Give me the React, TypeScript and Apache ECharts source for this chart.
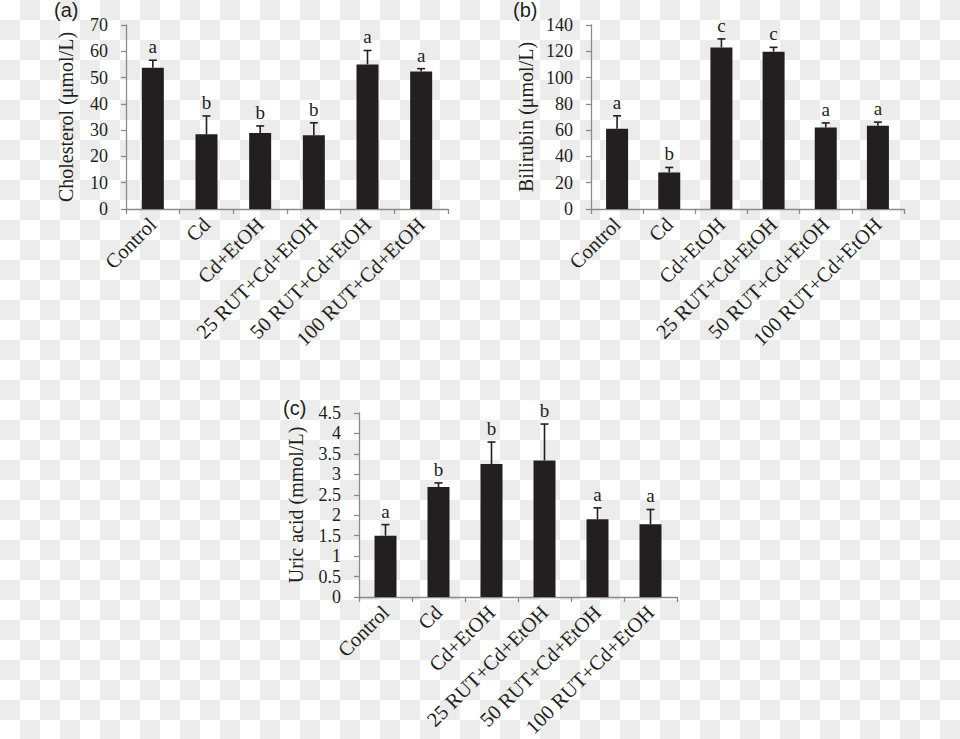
import React, { useEffect, useRef } from "react";
import * as echarts from "echarts";

const categories = [
  "Control",
  "Cd",
  "Cd+EtOH",
  "25 RUT+Cd+EtOH",
  "50 RUT+Cd+EtOH",
  "100 RUT+Cd+EtOH",
];

const cholMean = [53.7, 28.4, 28.9, 28.1, 55.0, 52.3];
const cholSD = [2.9, 7.0, 2.7, 4.7, 5.3, 1.1];
const cholLetters = ["a", "b", "b", "b", "a", "a"];

const biliMean = [61.0, 27.8, 122.8, 119.7, 62.0, 63.3];
const biliSD = [9.9, 3.8, 6.6, 3.3, 3.5, 2.8];
const biliLetters = ["a", "b", "c", "c", "a", "a"];

const uricMean = [1.5, 2.69, 3.25, 3.34, 1.9, 1.78];
const uricSD = [0.27, 0.1, 0.54, 0.89, 0.28, 0.36];
const uricLetters = ["a", "b", "b", "b", "a", "a"];

const panels = [
  { tag: "(a)", name: "Cholesterol (μmol/L)", mean: cholMean, sd: cholSD, letters: cholLetters, max: 70, interval: 10, nameGap: 50 },
  { tag: "(b)", name: "Bilirubin (μmol/L)", mean: biliMean, sd: biliSD, letters: biliLetters, max: 140, interval: 20, nameGap: 55 },
  { tag: "(c)", name: "Uric acid (mmol/L)", mean: uricMean, sd: uricSD, letters: uricLetters, max: 4.5, interval: 0.5, nameGap: 53 },
];

const grids = [
  { left: 126, top: 25, width: 322, height: 184, outerBoundsMode: "none", containLabel: false },
  { left: 591, top: 25, width: 313, height: 184, outerBoundsMode: "none", containLabel: false },
  { left: 359, top: 413, width: 318, height: 184, outerBoundsMode: "none", containLabel: false },
];

const tagPos = [
  [54, 0],
  [513, 0],
  [283, 398],
];

const INK = "#231f20";
const AXIS = "#8a8a8a";
const SERIF = '"Liberation Serif", "Times New Roman", serif';

export default function App() {
  const ref = useRef<HTMLDivElement>(null);
  useEffect(() => {
    if (!ref.current) return;
    const chart = echarts.init(ref.current, undefined, { renderer: "svg" });
    const xAxis: any[] = [];
    const yAxis: any[] = [];
    const series: any[] = [];
    panels.forEach((p, k) => {
      xAxis.push({
        type: "category",
        gridIndex: k,
        data: categories,
        boundaryGap: true,
        axisLine: { show: true, lineStyle: { color: AXIS, width: 1.3 } },
        axisTick: { show: true, length: 5, lineStyle: { color: AXIS, width: 1.3 } },
        axisLabel: { rotate: 45, margin: 12, color: INK, fontFamily: SERIF, fontSize: 20.5, interval: 0 },
        splitLine: { show: false },
      });
      yAxis.push({
        type: "value",
        gridIndex: k,
        min: 0,
        max: p.max,
        interval: p.interval,
        name: p.name,
        nameLocation: "middle",
        nameGap: p.nameGap,
        nameTextStyle: { color: INK, fontFamily: SERIF, fontSize: 20 },
        axisLine: { show: true, lineStyle: { color: AXIS, width: 1.3 } },
        axisTick: { show: true, length: 5, lineStyle: { color: AXIS, width: 1.3 } },
        axisLabel: { margin: 18, color: INK, fontFamily: SERIF, fontSize: 18 },
        splitLine: { show: false },
      });
      series.push({
        type: "bar",
        xAxisIndex: k,
        yAxisIndex: k,
        data: p.mean,
        barWidth: 22,
        itemStyle: { color: INK },
      });
      series.push({
        type: "custom",
        xAxisIndex: k,
        yAxisIndex: k,
        clip: false,
        z: 5,
        data: p.mean.map((m, i) => [i, m + p.sd[i], m]),
        encode: { x: 0, y: 1 },
        renderItem: (params: any, api: any) => {
          const i = api.value(0);
          const top = api.value(1);
          const base = api.value(2);
          const p1 = api.coord([i, base]);
          const p2 = api.coord([i, top]);
          return {
            type: "group",
            children: [
              { type: "line", shape: { x1: p1[0], y1: p1[1], x2: p2[0], y2: p2[1] }, style: { stroke: INK, lineWidth: 1.6 } },
              { type: "line", shape: { x1: p2[0] - 4, y1: p2[1], x2: p2[0] + 4, y2: p2[1] }, style: { stroke: INK, lineWidth: 1.6 } },
              {
                type: "text",
                x: p2[0],
                y: p2[1] - 4,
                style: {
                  text: p.letters[params.dataIndex],
                  fill: INK,
                  fontFamily: SERIF,
                  fontSize: 19,
                  align: "center",
                  verticalAlign: "bottom",
                },
              },
            ],
          };
        },
      });
    });
    chart.setOption({
      animation: false,
      backgroundColor: "transparent",
      grid: grids,
      xAxis,
      yAxis,
      series,
      graphic: panels.map((p, k) => ({
        type: "text",
        left: tagPos[k][0],
        top: tagPos[k][1],
        style: { text: p.tag, fill: INK, fontFamily: '"Liberation Sans", Arial, sans-serif', fontSize: 20 },
      })),
    });
    return () => chart.dispose();
  }, []);
  return (
    <div
      style={{
        position: "absolute",
        left: 0,
        top: 0,
        width: 960,
        height: 739,
        backgroundImage:
          "conic-gradient(#ececec 0 25%, #ffffff 0 50%, #ececec 0 75%, #ffffff 0)",
        backgroundSize: "40px 40px",
      }}
    >
      <div ref={ref} style={{ width: 960, height: 739 }} />
    </div>
  );
}
